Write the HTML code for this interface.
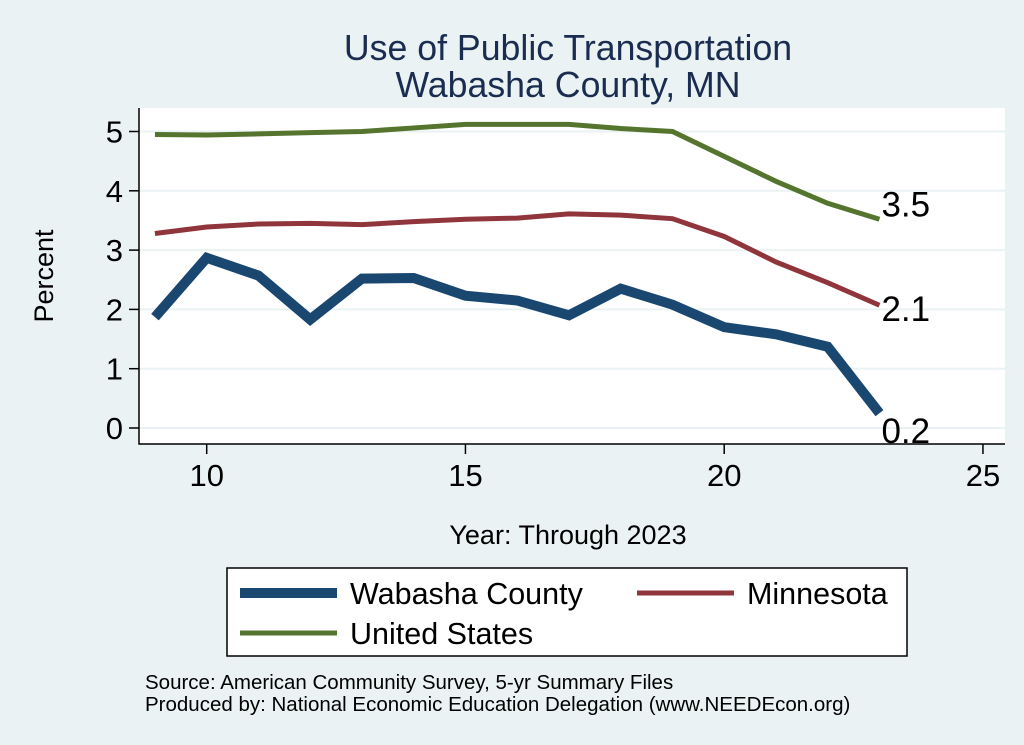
<!DOCTYPE html>
<html><head><meta charset="utf-8"><style>
body{margin:0;background:#eaf2f3;font-family:"Liberation Sans",sans-serif;}
svg{display:block}
</style></head><body>
<svg width="1024" height="745">
<rect x="0" y="0" width="1024" height="745" fill="#eaf2f3"/>
<text x="568" y="60" font-size="35.7" fill="#1a2d50" text-anchor="middle">Use of Public Transportation</text>
<text x="568" y="97" font-size="35.7" fill="#1a2d50" text-anchor="middle">Wabasha County, MN</text>
<rect x="139" y="108" width="866" height="336" fill="#fff"/>
<g id="grid"></g>
<g id="axes"></g>
<g id="series"></g>
<text x="53" y="276" font-size="27" text-anchor="middle" transform="rotate(-90 53 276)">Percent</text>
<text x="568" y="544" font-size="27" text-anchor="middle">Year: Through 2023</text>
<g>
<rect x="227" y="568" width="680" height="88" fill="#fff" stroke="#000" stroke-width="1.5"/>
<line x1="240" y1="593" x2="337" y2="593" stroke="#1a476f" stroke-width="10"/>
<text x="350" y="604" font-size="30.5">Wabasha County</text>
<line x1="637" y1="593" x2="734" y2="593" stroke="#90353b" stroke-width="5"/>
<text x="747" y="604" font-size="30.5">Minnesota</text>
<line x1="240" y1="633" x2="337" y2="633" stroke="#55752f" stroke-width="5"/>
<text x="350" y="644" font-size="30.5">United States</text>
</g>
<text x="145" y="689" font-size="20.5">Source: American Community Survey, 5-yr Summary Files</text>
<text x="145" y="711" font-size="20.5">Produced by: National Economic Education Delegation (www.NEEDEcon.org)</text>
</svg>
<script>
const years=[9,10,11,12,13,14,15,16,17,18,19,20,21,22,23];
const wabasha=[1.87,2.87,2.57,1.83,2.52,2.53,2.23,2.15,1.9,2.35,2.08,1.7,1.58,1.37,0.25];
const minnesota=[3.28,3.39,3.44,3.45,3.43,3.48,3.52,3.54,3.61,3.59,3.53,3.23,2.8,2.45,2.07];
const unitedStates=[4.95,4.94,4.96,4.98,5.0,5.06,5.12,5.12,5.12,5.05,5.0,4.58,4.16,3.79,3.52];
const xTicks=[10,15,20,25];
const yTicks=[0,1,2,3,4,5];
const endLabels=["0.2","2.1","3.5"];
const NS="http://www.w3.org/2000/svg";
const xs=v=>206.7+(v-10)*51.75;
const ys=v=>428-v*59.3;
function mk(t,a,p){const e=document.createElementNS(NS,t);for(const k in a)e.setAttribute(k,a[k]);p.appendChild(e);return e;}
const grid=document.getElementById('grid'),axes=document.getElementById('axes'),ser=document.getElementById('series');
yTicks.forEach(v=>{
 const g=mk('line',{x1:139,x2:1005,y1:ys(v),y2:ys(v),stroke:'#eaf2f3','stroke-width':2},grid);
 
 
 const t=mk('line',{x1:129,x2:139,y1:ys(v),y2:ys(v),stroke:'#000','stroke-width':1.5},axes);
 
 
 const l=mk('text',{x:123,y:ys(v)+11,'font-size':31,'text-anchor':'end'},axes);l.textContent=v;
 
 
});
xTicks.forEach(v=>{
 const t=mk('line',{x1:xs(v),x2:xs(v),y1:444,y2:454,stroke:'#000','stroke-width':1.5},axes);
 
 
 const l=mk('text',{x:xs(v),y:486,'font-size':31,'text-anchor':'middle'},axes);l.textContent=v;
 
 
});
const ax=mk('path',{d:'M139,108 V444 H1005',fill:'none',stroke:'#000','stroke-width':1.5},axes);


[[unitedStates,'#55752f',5,'us'],[minnesota,'#90353b',5,'minnesota'],[wabasha,'#1a476f',10,'wabasha']].forEach(([d,c,w,n],i)=>{
 const p=mk('polyline',{points:d.map((v,j)=>xs(years[j])+','+ys(v)).join(' '),fill:'none',stroke:c,'stroke-width':w,'stroke-linejoin':'miter'},ser);
 
 
});
[[wabasha,0,30],[minnesota,1,16],[unitedStates,2,-3]].forEach(([d,i,dy])=>{
 const last=d[d.length-1];
 const t=mk('text',{x:xs(years[years.length-1])+2,y:ys(last)+dy,'font-size':35},ser);
 t.textContent=endLabels[i];
 
 
});
</script>
</body></html>
